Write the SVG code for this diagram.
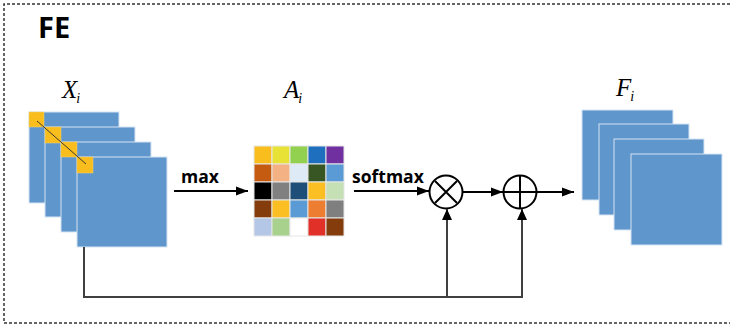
<svg xmlns="http://www.w3.org/2000/svg" width="730" height="328" viewBox="0 0 730 328">
<defs>
<marker id="ah" viewBox="0 0 12 10" refX="12" refY="5" markerWidth="6" markerHeight="5" markerUnits="strokeWidth" orient="auto"><path d="M0,0.5 L12,5 L0,9.5 z" fill="#000"/></marker>
<style>
.sq{fill:#5f97cc;stroke:#d6e4f2;stroke-width:1}
.yl{fill:#f9be1e;stroke:#f3d070;stroke-width:0.5}
.lbl{font-family:"Liberation Serif",serif;font-style:italic;font-size:25px;fill:#000}
.sub{font-size:14px}
.op{font-family:"Open Sans","Liberation Sans",sans-serif;font-weight:bold;font-size:17.5px;fill:#000}
.arr{stroke:#000;stroke-width:2;fill:none;marker-end:url(#ah)}
.fb{stroke:#404040;stroke-width:2;fill:none}
.cell{stroke:#e6e6e6;stroke-width:1}
.circ{fill:#fff;stroke:#000;stroke-width:2}
</style>
</defs>
<path d="M730,4 H4 V323 H730" fill="#fff" stroke="#333" stroke-width="1.5" stroke-dasharray="3,2"/>
<text x="38" y="38" font-family="Open Sans, Liberation Sans, sans-serif" font-weight="bold" font-size="29" fill="#000">FE</text>

<g id="Xi">
<text class="lbl" x="62" y="98">X<tspan class="sub" dx="-1" dy="5">i</tspan></text>
<rect class="sq" x="29" y="112" width="90" height="91"/>
<rect class="yl" x="29" y="112" width="15" height="15"/>
<rect class="sq" x="45" y="127" width="90" height="90"/>
<rect class="yl" x="45" y="127" width="16" height="16"/>
<rect class="sq" x="61" y="142" width="90" height="90"/>
<rect class="yl" x="61" y="142" width="16" height="15"/>
<rect class="sq" x="77" y="157" width="90" height="90"/>
<rect class="yl" x="77" y="157" width="16" height="16"/>
<line x1="37" y1="121" x2="86" y2="164" stroke="#3a3a2a" stroke-width="1"/>
</g>

<g id="Ai">
<text class="lbl" x="284" y="98">A<tspan class="sub" dx="-1" dy="5">i</tspan></text>
<g class="cell">
<rect x="254" y="146" width="18" height="18" fill="#f9be1e"/>
<rect x="272" y="146" width="18" height="18" fill="#e9e236"/>
<rect x="290" y="146" width="18" height="18" fill="#92d050"/>
<rect x="308" y="146" width="18" height="18" fill="#1f6fbf"/>
<rect x="326" y="146" width="18" height="18" fill="#7030a0"/>
<rect x="254" y="164" width="18" height="18" fill="#c55a11"/>
<rect x="272" y="164" width="18" height="18" fill="#f4b183"/>
<rect x="290" y="164" width="18" height="18" fill="#deebf7"/>
<rect x="308" y="164" width="18" height="18" fill="#375623"/>
<rect x="326" y="164" width="18" height="18" fill="#5b9bd5"/>
<rect x="254" y="182" width="18" height="18" fill="#000000"/>
<rect x="272" y="182" width="18" height="18" fill="#808080"/>
<rect x="290" y="182" width="18" height="18" fill="#1f4e79"/>
<rect x="308" y="182" width="18" height="18" fill="#fbbf23"/>
<rect x="326" y="182" width="18" height="18" fill="#c5e0b4"/>
<rect x="254" y="200" width="18" height="18" fill="#843c0c"/>
<rect x="272" y="200" width="18" height="18" fill="#fbbf23"/>
<rect x="290" y="200" width="18" height="18" fill="#5b9bd5"/>
<rect x="308" y="200" width="18" height="18" fill="#ed7d31"/>
<rect x="326" y="200" width="18" height="18" fill="#7f7f7f"/>
<rect x="254" y="218" width="18" height="18" fill="#b4c7e7"/>
<rect x="272" y="218" width="18" height="18" fill="#a9d18e"/>
<rect x="290" y="218" width="18" height="18" fill="#ffffff"/>
<rect x="308" y="218" width="18" height="18" fill="#e03028"/>
<rect x="326" y="218" width="18" height="18" fill="#843c0c"/>
</g>
</g>

<g id="mul">
<circle class="circ" cx="446" cy="192" r="16.5"/>
<path d="M435,181 L457,203 M457,181 L435,203" stroke="#000" stroke-width="2"/>
</g>

<g id="add">
<circle class="circ" cx="520" cy="192" r="16.5"/>
<path d="M503.5,192 L536.5,192 M520,175.5 L520,208.5" stroke="#000" stroke-width="2"/>
</g>

<g id="Fi">
<text class="lbl" x="616" y="96">F<tspan class="sub" dx="-1" dy="5">i</tspan></text>
<rect class="sq" x="582" y="110" width="91" height="90"/>
<rect class="sq" x="599" y="124" width="90" height="91"/>
<rect class="sq" x="614" y="139" width="90" height="91"/>
<rect class="sq" x="631" y="154" width="91" height="91"/>
</g>

<g id="connectors">
<line class="arr" x1="174" y1="191" x2="248" y2="191"/>
<text class="op" x="181" y="183">max</text>
<line class="arr" x1="354" y1="191" x2="429" y2="191"/>
<text class="op" x="352" y="183">softmax</text>
<line class="arr" x1="463" y1="192" x2="503" y2="192"/>
<line class="arr" x1="537" y1="192" x2="574" y2="192"/>
<polyline class="fb" points="84,247 84,297 522,297 522,209"/>
<line class="fb" x1="447" y1="297" x2="447" y2="209"/>
<path d="M447,209 l-5,11 h10 z M522,209 l-5,11 h10 z" fill="#000"/>
</g>
</svg>
